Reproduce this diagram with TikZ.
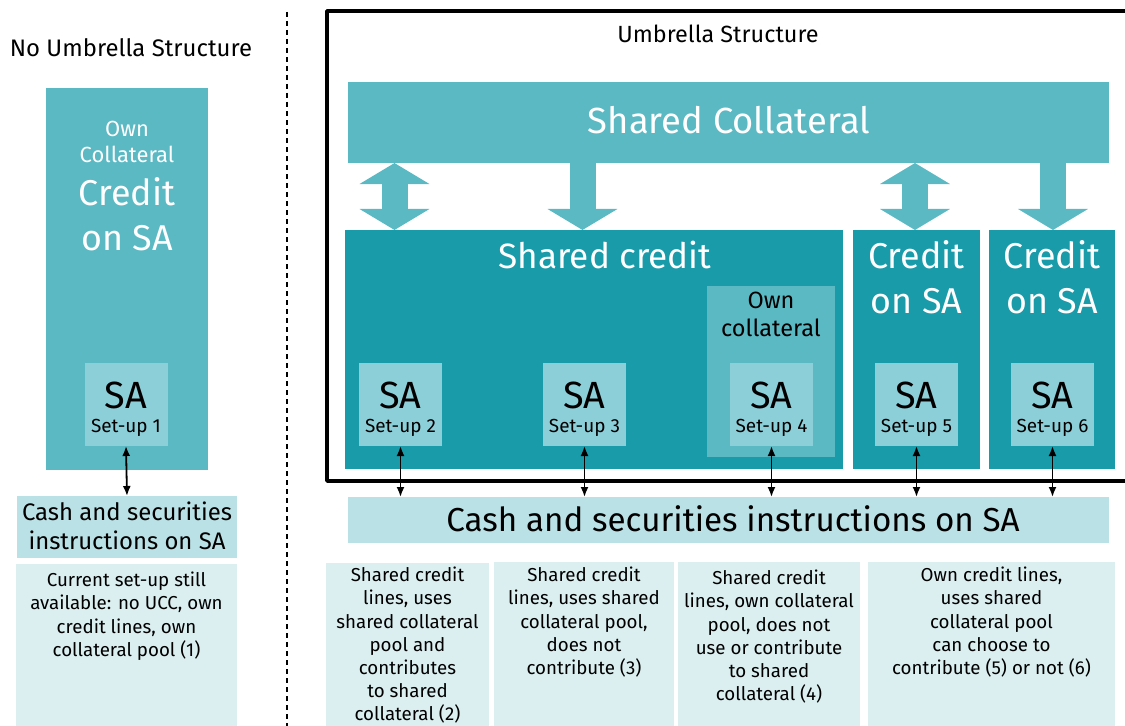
\documentclass[tikz,border=0pt]{standalone}
\usepackage{fontspec}
\setmainfont{Fira Sans}
\usetikzlibrary{arrows.meta}
\definecolor{midteal}{HTML}{5BB9C4}
\definecolor{darkteal}{HTML}{199BAA}
\definecolor{lightteal}{HTML}{8CCFD8}
\definecolor{paleteal}{HTML}{B9E1E6}
\definecolor{mistteal}{HTML}{DBEFF1}
\newcommand\setupfont{\fontsize{19}{20}\selectfont}
\tikzset{
  panel/.style={draw=none,inner sep=0pt,outer sep=0pt},
  txt/.style={inner sep=0pt,outer sep=0pt,align=center},
  hugetxt/.style={txt,font=\fontsize{36}{45}\selectfont},
  satxt/.style={txt,font=\fontsize{38}{24}\selectfont},
  midtxt/.style={txt,font=\fontsize{24}{29}\selectfont},
  smalltxt/.style={txt,font=\fontsize{22}{26}\selectfont},
  notetxt/.style={txt,anchor=north,font=\fontsize{18.8}{23.3}\selectfont},
  fatboth/.style={line width=26bp,color=midteal,
    {Triangle[width=69bp,length=21bp]}-{Triangle[width=69bp,length=21bp]}},
  fatdown/.style={line width=26bp,color=midteal,
    -{Triangle[width=69bp,length=21bp]}},
  link/.style={{Latex[length=10bp,width=8bp]}-{Latex[length=10bp,width=8bp]},line width=1.8bp},
}
\begin{document}
\begin{tikzpicture}[>=latex,line join=bevel,x=1bp,y=-1bp]
  \useasboundingbox (0,0) rectangle (1125,726);
%%
  % Node: NoUmbrella
  \node[txt,font=\fontsize{24}{26}\selectfont] (nohead) at (131,48) {No Umbrella Structure};
  \draw [line width=2.5bp,dash pattern=on 5bp off 4bp] (287,12) -- (287,730);
  % Node: OwnCredit
  \node[panel,fill=midteal,minimum width=162bp,minimum height=382bp] (owncredit) at (127,279) {};
  \node[smalltxt,white] (owncoll1) at (127,142) {Own\\Collateral};
  \node[hugetxt,white] (credit1) at (127,214.5) {Credit\\on SA};
  % Node: SA1
  \node[panel,fill=lightteal,minimum width=83bp,minimum height=83bp] (sa1) at (126,404.5) {};
  \node[satxt] (sa1t) at (126,409) {SA\\{\setupfont Set-up 1}};
  % Node: CashLeft
  \node[panel,fill=paleteal,minimum width=220bp,minimum height=62bp] (cashl) at (127,527) {};
  \node[midtxt] (cashlt) at (127,525.5) {Cash and securities\\instructions on SA};
  % Node: NoteLeft
  \node[panel,fill=mistteal,minimum width=221bp,minimum height=166bp] (notel) at (126.5,647) {};
  \node[notetxt] (notelt) at (126.5,572) {Current set-up still\\available: no UCC, own\\credit lines, own\\collateral pool (1)};
  % Edge: SA1 -> CashLeft
  \draw [link] (sa1.south) -- (cashl.north);
%%
  % Node: Umbrella
  \node[panel,draw=black,line width=4bp,minimum width=808bp,minimum height=470bp] (umbrella) at (731,246) {};
  \node[txt,font=\fontsize{23.5}{26}\selectfont] (umbhead) at (718,34) {Umbrella Structure};
  % Node: SharedCollateral
  \node[panel,fill=midteal,minimum width=761bp,minimum height=81bp] (sharedcoll) at (728.5,122.5) {};
  \node[hugetxt,white,font=\fontsize{36.5}{45}\selectfont] (sharedcollt) at (729,120) {Shared Collateral};
  % Node: SharedCredit
  \node[panel,fill=darkteal,minimum width=498bp,minimum height=239bp] (sharedcred) at (594,349.5) {};
  \node[hugetxt,white,font=\fontsize{35.3}{45}\selectfont] (sharedcredt) at (605,255) {Shared credit};
  % Node: OwnCollateral
  \node[panel,fill=midteal,minimum width=128bp,minimum height=171bp] (owncollbox) at (771,371.5) {};
  \node[txt,font=\fontsize{23.6}{28}\selectfont] (owncollt) at (771,314) {Own\\collateral};
  % Node: Credit5
  \node[panel,fill=darkteal,minimum width=127bp,minimum height=239bp] (cred5) at (916.5,349.5) {};
  \node[hugetxt,white] (cred5t) at (916.5,277.5) {Credit\\on SA};
  % Node: Credit6
  \node[panel,fill=darkteal,minimum width=126bp,minimum height=239bp] (cred6) at (1052,349.5) {};
  \node[hugetxt,white] (cred6t) at (1052,277.5) {Credit\\on SA};
  % Node: SA2 .. SA6
  \foreach \n/\x in {2/400.5,3/584.5,4/771.5,5/916.5,6/1052.5}{
    \node[panel,fill=lightteal,minimum width=83bp,minimum height=83bp] (sa\n) at (\x,404.5) {};
    \node[satxt] (sa\n t) at (\x,409) {SA\\{\setupfont Set-up \n}};
  }
  % Node: CashRight
  \node[panel,fill=paleteal,minimum width=761bp,minimum height=46bp] (cashr) at (728.5,520) {};
  \node[txt,font=\fontsize{33.3}{34}\selectfont] (cashrt) at (733,519) {Cash and securities instructions on SA};
  % Edge: SharedCollateral -> SharedCredit, Credit5, Credit6
  \draw [fatboth] (sharedcoll.south -| 394.5,0) -- (sharedcred.north -| 394.5,0);
  \draw [fatdown] (sharedcoll.south -| 582.5,0) -- (sharedcred.north -| 582.5,0);
  \draw [fatboth] (sharedcoll.south -| 915,0) -- (cred5.north -| 915,0);
  \draw [fatdown] (sharedcoll.south -| 1053,0) -- (cred6.north -| 1053,0);
  % Edge: SA2 .. SA6 -> CashRight
  \foreach \n in {2,...,6}{
    \draw [link] (sa\n.south) -- (sa\n.south |- cashr.north);
  }
  % Node: Notes
  \node[panel,fill=mistteal,minimum width=163bp,minimum height=167bp] (note2) at (407.5,646.5) {};
  \node[panel,fill=mistteal,minimum width=180bp,minimum height=168bp] (note3) at (584,646) {};
  \node[panel,fill=mistteal,minimum width=182bp,minimum height=168bp] (note4) at (769,646) {};
  \node[panel,fill=mistteal,minimum width=247bp,minimum height=168bp] (note5) at (991.5,646) {};
  \node[notetxt] (note2t) at (407.5,567) {Shared credit\\lines, uses\\shared collateral\\pool and\\contributes\\to shared\\collateral (2)};
  \node[notetxt] (note3t) at (584,567) {Shared credit\\lines, uses shared\\collateral pool,\\does not\\contribute (3)};
  \node[notetxt] (note4t) at (769,570) {Shared credit\\lines, own collateral\\pool, does not\\use or contribute\\to shared\\collateral (4)};
  \node[notetxt] (note5t) at (991.5,567) {Own credit lines,\\uses shared\\collateral pool\\can choose to\\contribute (5) or not (6)};
%
\end{tikzpicture}
\end{document}
